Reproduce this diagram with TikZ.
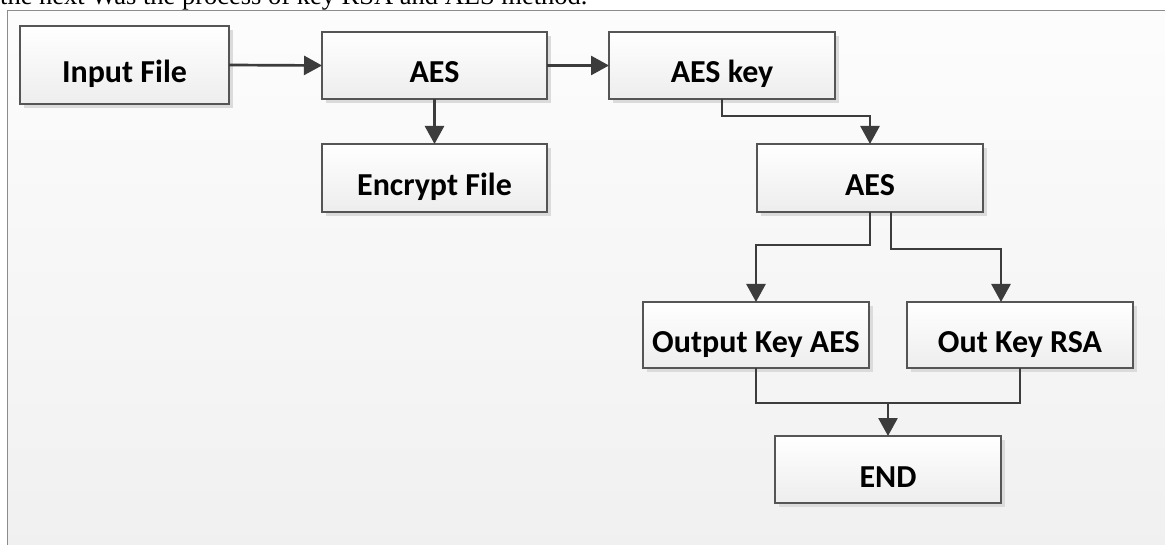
\documentclass[tikz,border=0pt]{standalone}
\usepackage{fontspec}
\setmainfont{Carlito}
\newfontfamily\toptext{Liberation Serif}
\usetikzlibrary{arrows.meta,shadows}
\definecolor{lineC}{HTML}{3C3C3C}
\definecolor{boxC}{HTML}{555555}
\definecolor{frameC}{HTML}{8C8C8C}
\tikzset{
  box/.style={rectangle, draw=boxC, line width=1.2pt, inner sep=0pt, outer sep=0pt,
    top color=white, bottom color=black!7,
    general shadow={fill=black!14, shadow xshift=4pt, shadow yshift=-4pt},
    font=\fontsize{32}{32}\selectfont\bfseries, text=black,
    text height=35pt, text depth=0pt, align=center},
  conn/.style={draw=lineC, line width=2.7pt},
  arr/.style={conn, -{Triangle[length=18pt,width=19pt]}}
}
\begin{document}
\begin{tikzpicture}[x=1pt,y=-1pt]
\useasboundingbox (0,0) rectangle (1165,545);
\clip (0,0) rectangle (1165,545);
\fill[white] (0,0) rectangle (1165,545);
\node[anchor=base west, inner sep=0pt, font=\toptext\fontsize{26.5}{26.5}\selectfont] (cap) at (0,5) {the next Was the process of key RSA and AES method.};
\path[draw=frameC, line width=1.6pt, top color=black!1, bottom color=black!6] (7.5,10.5) rectangle (1190,570);
\node[box, minimum width=209pt, minimum height=78pt] (in) at (124.5,65) {Input File};
\node[box, minimum width=225pt, minimum height=67pt] (aes1) at (434.5,65.5) {AES};
\node[box, minimum width=225pt, minimum height=68pt] (enc) at (434.5,178) {Encrypt File};
\node[box, minimum width=226pt, minimum height=67pt] (key) at (722,65.5) {AES key};
\node[box, minimum width=226pt, minimum height=68pt] (aes2) at (870,178) {AES};
\node[box, minimum width=226pt, minimum height=66pt] (outA) at (756,335) {Output Key AES};
\node[box, minimum width=226pt, minimum height=66pt] (outR) at (1020,335) {Out Key RSA};
\node[box, minimum width=226pt, minimum height=67pt] (end) at (888,469.5) {END};
\draw[arr] (in.east) -- (aes1.west);
\draw[arr] (aes1.east) -- (key.west);
\draw[arr] (aes1.south) -- (enc.north);
\draw[arr] (key.south) -- ++(0,17) -| (aes2.north);
\draw[arr] (aes2.south) -- ++(0,33) -| (outA.north);
\draw[arr] ([xshift=21pt]aes2.south) -- ++(0,37) -| ([xshift=-19pt]outR.north);
\coordinate (jn) at (888,403);
\draw[conn] (outA.south) |- (jn) -| (outR.south);
\draw[arr] (jn) -- (end.north);
\end{tikzpicture}
\end{document}
